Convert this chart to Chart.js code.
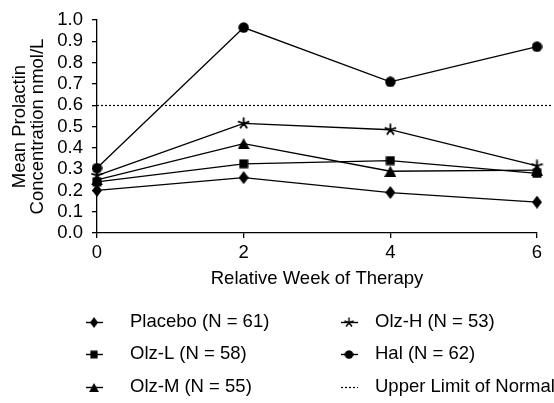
<!DOCTYPE html>
<html>
<head>
	<title>Mean Prolactin Concentration</title>
	<script src="https://cdn.jsdelivr.net/npm/chart.js"></script>
	<style>
		body { margin: 0; background: #fff; }
		.chart-container { width: 554px; height: 403px; }
	</style>
</head>
<body>
	<div class="chart-container">
		<canvas id="myChart" width="554" height="403"></canvas>
	</div>
	<script>
		// values
		const weeks = [0, 2, 4, 6];
		const placebo = [0.20, 0.26, 0.19, 0.145];
		const olzL = [0.24, 0.325, 0.34, 0.28];
		const olzM = [0.25, 0.42, 0.29, 0.295];
		const olzH = [0.27, 0.515, 0.485, 0.315];
		const hal = [0.305, 0.965, 0.71, 0.875];
		const upperLimit = 0.6;
		const seriesLabels = ['Placebo (N = 61)', 'Olz-L (N = 58)', 'Olz-M (N = 55)', 'Olz-H (N = 53)', 'Hal (N = 62)'];
		const upperLimitLabel = 'Upper Limit of Normal';

		const FONT = "'Liberation Sans', Arial, Helvetica, sans-serif";
		const FS = 18.5;

		// black marker images
		function marker(shape, w, h) {
			const c = document.createElement('canvas');
			c.width = w; c.height = h;
			const g = c.getContext('2d');
			g.fillStyle = '#000';
			g.strokeStyle = '#000';
			g.beginPath();
			if (shape === 'diamond') {
				g.moveTo(w / 2, 0); g.lineTo(w, h / 2); g.lineTo(w / 2, h); g.lineTo(0, h / 2);
				g.closePath(); g.fill();
			} else if (shape === 'square') {
				g.fillRect(0.5, 0.5, w - 1, h - 1);
			} else if (shape === 'triangle') {
				g.moveTo(w / 2, 0); g.lineTo(w, h); g.lineTo(0, h);
				g.closePath(); g.fill();
			} else if (shape === 'circle') {
				g.arc(w / 2, h / 2, w / 2 - 0.3, 0, Math.PI * 2); g.fill();
			} else if (shape === 'star') {
				g.lineWidth = 1.8;
				for (let i = 0; i < 5; i++) {
					const a = -Math.PI / 2 + i * Math.PI * 2 / 5;
					g.moveTo(w / 2, h / 2);
					g.lineTo(w / 2 + Math.cos(a) * (w / 2 - 0.5), h / 2 + Math.sin(a) * (h / 2 - 0.5));
				}
				g.stroke();
			}
			return c;
		}

		const markers = [
			marker('diamond', 10, 13),
			marker('square', 10, 10),
			marker('triangle', 12, 11),
			marker('star', 13, 13),
			marker('circle', 11, 11)
		];
		const seriesValues = [placebo, olzL, olzM, olzH, hal];

		const datasets = seriesValues.map((vals, i) => ({
			label: seriesLabels[i],
			data: weeks.map((w, j) => ({x: w, y: vals[j]})),
			borderColor: '#000',
			backgroundColor: '#000',
			borderWidth: 1.3,
			pointStyle: markers[i],
			tension: 0,
			fill: false,
			clip: 12
		}));

		// dotted upper-limit line, runs a bit past the last week like the original
		const upperLimitPlugin = {
			id: 'upperLimit',
			beforeDatasetsDraw(chart) {
				const ctx = chart.ctx;
				const y = Math.round(chart.scales.y.getPixelForValue(upperLimit)) + 0.5;
				ctx.save();
				ctx.strokeStyle = '#000';
				ctx.lineWidth = 1.2;
				ctx.setLineDash([2, 2]);
				ctx.beginPath();
				ctx.moveTo(chart.chartArea.left, y);
				ctx.lineTo(chart.chartArea.right + 14, y);
				ctx.stroke();
				ctx.restore();
			}
		};

		// two-column legend below the axes
		const legendPlugin = {
			id: 'twoColLegend',
			afterDraw(chart) {
				const ctx = chart.ctx;
				const colX = [94, 349];
				const textX = [130, 375];
				const rowY = [322, 354, 387];
				const items = seriesLabels.map((t, i) => ({text: t, img: markers[i]}));
				items.push({text: upperLimitLabel, dotted: true});
				ctx.save();
				ctx.font = FS + 'px ' + FONT;
				ctx.fillStyle = '#000';
				ctx.textBaseline = 'middle';
				items.forEach((item, i) => {
					const col = i < 3 ? 0 : 1;
					const row = i % 3;
					const cx = colX[col];
					const cy = rowY[row];
					ctx.strokeStyle = '#000';
					ctx.lineWidth = item.dotted ? 1.2 : 1.4;
					ctx.setLineDash(item.dotted ? [2, 2] : []);
					ctx.beginPath();
					ctx.moveTo(cx - 8, cy + 0.5);
					ctx.lineTo(cx + 9, cy + 0.5);
					ctx.stroke();
					ctx.setLineDash([]);
					if (item.img) {
						const w = item.img.width * 0.82, h = item.img.height * 0.82;
						ctx.drawImage(item.img, cx - w / 2, cy - h / 2 + 0.5, w, h);
					}
					ctx.fillText(item.text, textX[col], cy);
				});
				ctx.restore();
			}
		};

		const ctx = document.getElementById('myChart').getContext('2d');
		const myChart = new Chart(ctx, {
			type: 'line',
			data: { datasets: datasets },
			plugins: [upperLimitPlugin, legendPlugin],
			options: {
				responsive: false,
				animation: false,
				devicePixelRatio: 1,
				layout: { padding: { top: 7, right: 17, bottom: 110, left: 0 } },
				plugins: { legend: { display: false }, tooltip: { enabled: false } },
				scales: {
					x: {
						type: 'linear',
						min: 0,
						max: 6,
						ticks: { stepSize: 2, color: '#000', font: { family: FONT, size: FS }, padding: 4 },
						grid: { drawOnChartArea: false, tickLength: 5, color: '#000', lineWidth: 1.3 },
						border: { color: '#000', width: 1.3 },
						title: { display: true, text: 'Relative Week of Therapy', color: '#000', font: { family: FONT, size: FS }, padding: { top: 0, bottom: 3 } },
						afterFit: s => { s.height = 60; }
					},
					y: {
						min: 0,
						max: 1,
						ticks: { stepSize: 0.1, autoSkip: false, color: '#000', font: { family: FONT, size: FS }, padding: 9, callback: v => v.toFixed(1) },
						grid: { drawOnChartArea: false, tickLength: 5, color: '#000', lineWidth: 1.3 },
						border: { color: '#000', width: 1.3 },
						title: { display: true, text: ['Mean Prolactin', 'Concentration nmol/L'], color: '#000', font: { family: FONT, size: FS, lineHeight: 1.02 }, padding: { top: 10, bottom: 0 } },
						afterFit: s => { s.width = 97; }
					}
				}
			}
		});
	</script>
</body>
</html>
